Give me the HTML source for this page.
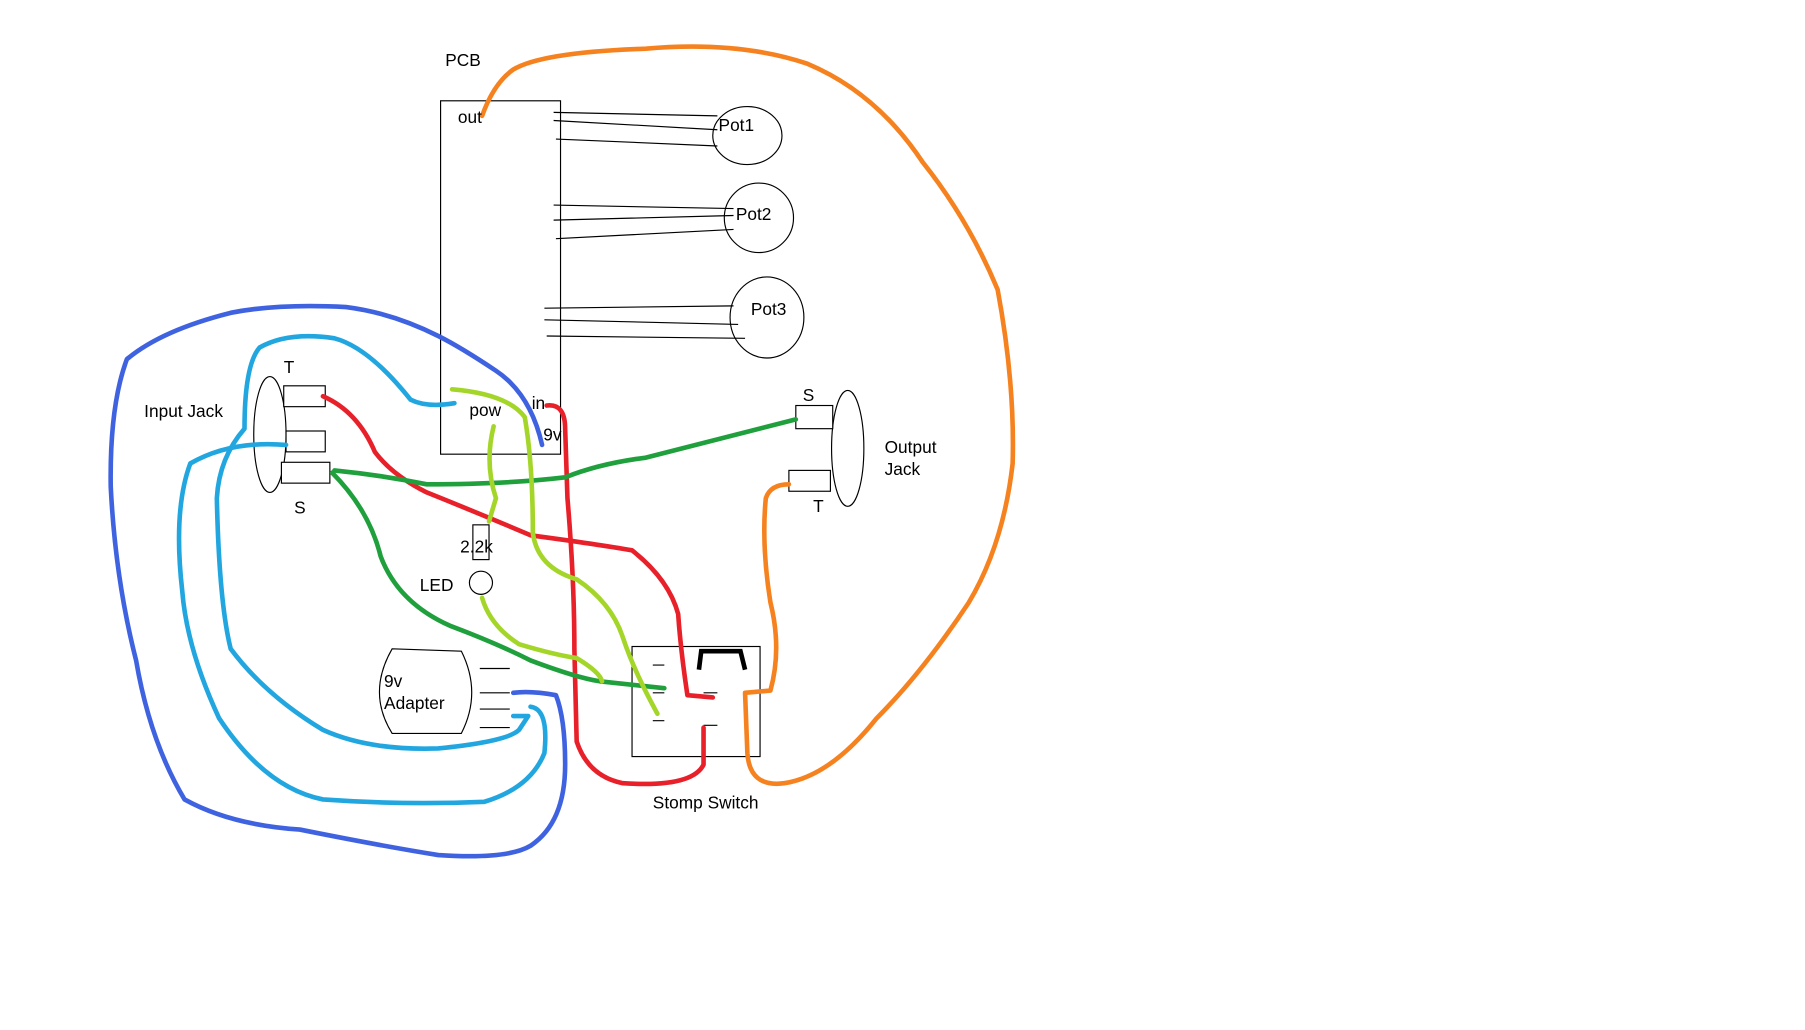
<!DOCTYPE html>
<html><head><meta charset="utf-8"><style>
html,body{margin:0;padding:0;background:#fff;width:1805px;height:1030px;overflow:hidden}
svg{display:block}
text{font-family:"Liberation Sans",sans-serif;font-size:15px;fill:#000}
</style></head><body>
<svg width="1805" height="1030" viewBox="0 0 1565 889" preserveAspectRatio="none" xmlns="http://www.w3.org/2000/svg">
<g fill="none" stroke="#000" stroke-width="1">
<rect x="382" y="87" width="104" height="305"/>
<ellipse cx="648" cy="117" rx="30" ry="25"/>
<ellipse cx="658" cy="188" rx="30" ry="30"/>
<ellipse cx="665" cy="274" rx="32" ry="35"/>
<path d="M480 97 L622 100 M480 104 L622 112 M482 120 L622 126"/>
<path d="M480 177 L636 180 M480 190 L636 186 M482 206 L636 198"/>
<path d="M472 266 L636 264 M472 276 L640 280 M474 290 L646 292"/>
<ellipse cx="234" cy="375" rx="14" ry="50"/>
<rect x="246" y="333" width="36" height="18" fill="#fff"/>
<rect x="248" y="372" width="34" height="18" fill="#fff"/>
<rect x="244" y="399" width="42" height="18" fill="#fff"/>
<ellipse cx="735" cy="387" rx="14" ry="50"/>
<rect x="690" y="350" width="32" height="20" fill="#fff"/>
<rect x="684" y="406" width="36" height="18" fill="#fff"/>
<rect x="548" y="558" width="111" height="95"/>
<rect x="410" y="453" width="14" height="30"/>
<circle cx="417" cy="503" r="10"/>
<path d="M340 560 L400 562 Q418 598 400 633 L340 633 Q318 598 340 560 Z"/>
<path d="M416 577 L442 577 M416 598 L442 598 M416 612 L442 612 M416 628 L442 628"/>
<path d="M566 574 L576 574 M566 598 L576 598 M566 622 L576 622 M610 598 L622 598 M610 626 L622 626"/>
</g>
<path d="M606 578 L608 562 L642 562 L646 578" fill="none" stroke="#000" stroke-width="4"/>
<g fill="none" stroke-width="4" stroke-linecap="round" stroke-linejoin="round">
<path stroke="#f5821f" d="M418 100 Q428 72 445 60 Q470 45 560 42 Q640 35 700 55 Q760 80 800 140 Q840 190 865 250 Q880 330 878 400 Q870 470 840 520 Q800 580 760 620 Q720 670 680 676 Q650 680 648 650 L646 598 L668 596 Q678 560 668 520 Q660 470 664 430 Q668 418 684 418"/>
<path stroke="#e8202a" d="M280 342 Q310 355 325 390 Q340 410 370 425 Q420 445 460 462 Q520 470 548 475 Q580 500 588 530 Q590 560 596 600 L618 602"/>
<path stroke="#e8202a" d="M474 350 Q490 348 490 370 L492 430 Q498 500 498 560 L500 640 Q510 670 540 676 Q600 680 610 660 L610 628"/>
<path stroke="#1fa03c" d="M290 406 Q330 410 370 418 Q440 418 490 412 Q520 400 560 395 Q620 380 690 362"/>
<path stroke="#1fa03c" d="M288 408 Q320 440 330 480 Q345 520 390 540 Q430 555 460 570 Q500 585 520 588 L576 594"/>
<path stroke="#a4d62a" d="M392 336 Q440 340 455 360 Q462 400 462 460 Q466 490 500 500 Q530 520 540 550 Q550 580 570 616"/>
<path stroke="#a4d62a" d="M428 368 Q420 400 430 430 L424 450 M418 516 Q425 540 450 556 Q480 565 500 568 Q520 580 522 588"/>
<path stroke="#21a6e0" d="M394 348 Q370 352 356 345 Q320 300 290 292 Q250 286 225 300 Q212 315 212 370 Q190 395 188 430 Q190 520 200 560 Q230 600 280 630 Q320 648 380 646 Q440 640 450 630 L458 618 L445 618"/>
<path stroke="#21a6e0" d="M248 384 Q200 380 165 400 Q150 440 158 510 Q162 560 190 620 Q230 680 280 690 Q350 695 420 692 Q460 680 472 650 Q476 612 460 610"/>
<path stroke="#3f63e0" d="M470 384 Q460 340 430 320 Q400 300 380 290 Q340 270 300 265 Q240 262 200 270 Q140 285 110 310 Q95 350 96 420 Q100 500 118 570 Q130 640 160 690 Q200 712 260 716 Q330 730 380 738 Q440 742 460 730 Q490 710 490 660 Q490 620 482 600 Q460 596 445 598"/>
</g>
<text x="386" y="57">PCB</text>
<text x="397" y="106" font-size="14">out</text>
<text x="623" y="113">Pot1</text>
<text x="638" y="190">Pot2</text>
<text x="651" y="272">Pot3</text>
<text x="125" y="360">Input Jack</text>
<text x="246" y="322">T</text>
<text x="255" y="443">S</text>
<text x="407" y="359">pow</text>
<text x="461" y="353">in</text>
<text x="471" y="380">9v</text>
<text x="696" y="346">S</text>
<text x="705" y="442">T</text>
<text x="767" y="391">Output</text>
<text x="767" y="410">Jack</text>
<text x="399" y="477">2.2k</text>
<text x="364" y="510">LED</text>
<text x="333" y="593">9v</text>
<text x="333" y="612">Adapter</text>
<text x="566" y="698">Stomp Switch</text>
</svg>
</body></html>
